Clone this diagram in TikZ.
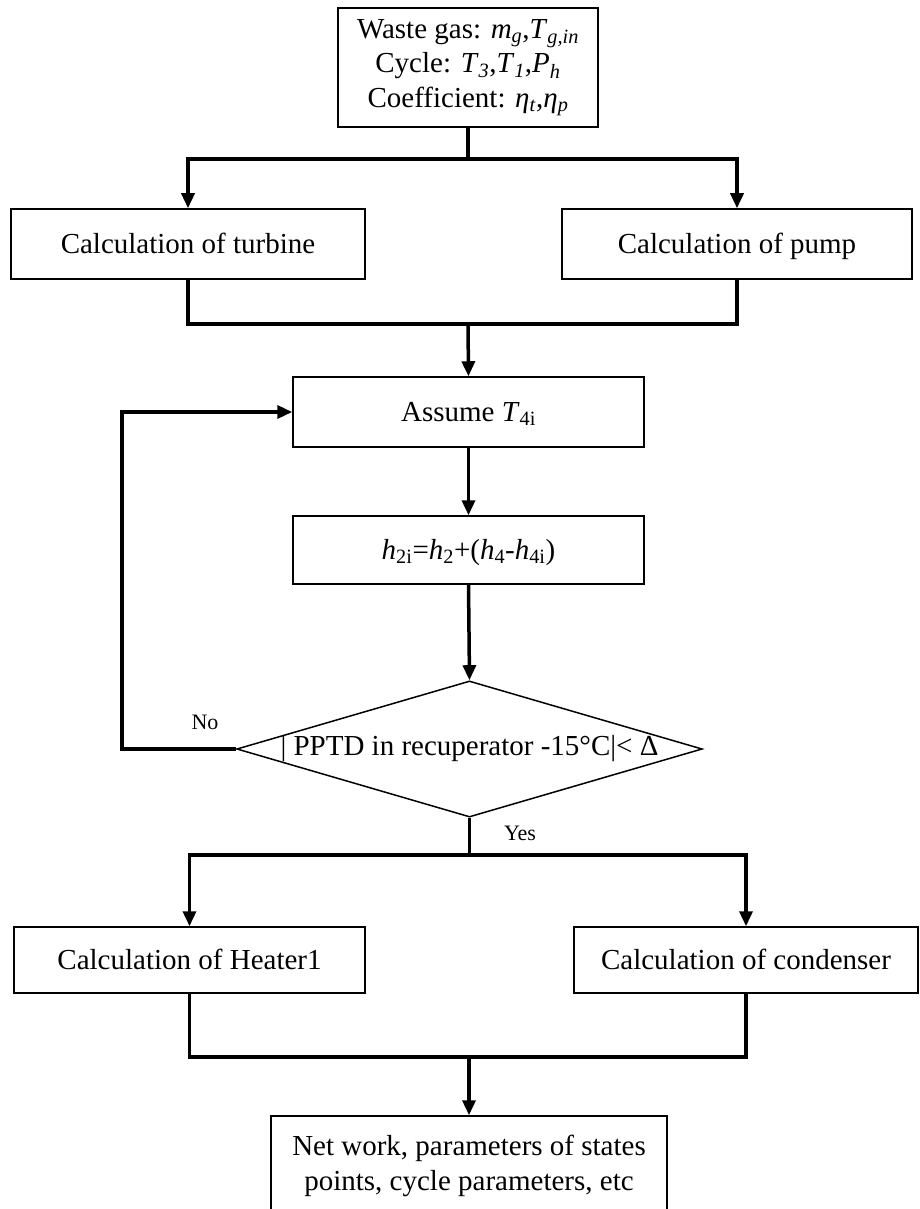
\documentclass[tikz,border=0pt]{standalone}
\usepackage{fontspec}
\setmainfont{Liberation Serif}
\usetikzlibrary{shapes.geometric,arrows.meta}
\newcommand{\vsub}[2]{\textit{#1}\textsubscript{#2}}
\begin{document}
\begin{tikzpicture}[x=1pt,y=-1pt,
boxstyle/.style={rectangle,draw,line width=1.5pt,align=center,font=\fontsize{29}{34.5}\selectfont},
onebox/.style={boxstyle,text height=22pt,text depth=4pt},
decstyle/.style={diamond,draw,line width=1.5pt,aspect=3.42,inner sep=-0.3pt,font=\fontsize{29}{34.5}\selectfont},
flow/.style={line width=3.5pt,-{Triangle[length=15pt,width=13pt]}},
plain/.style={line width=3.5pt},
lab/.style={font=\fontsize{22}{26}\selectfont}]
\useasboundingbox (0,0) rectangle (919,1209);
\node[boxstyle,minimum width=260,minimum height=119](input) at (468,67.5){Waste gas: \vsub{m}{\textit{g}},\vsub{T}{\textit{g,in}}\\Cycle: \vsub{T}{\textit{3}},\vsub{T}{\textit{1}},\vsub{P}{\textit{h}}\\Coefficient: \vsub{η}{\textit{t}},\vsub{η}{\textit{p}}};
\node[onebox,minimum width=354,minimum height=70](turbine) at (188,244){Calculation of turbine};
\node[onebox,minimum width=350,minimum height=70](pump) at (737,244){Calculation of pump};
\node[onebox,minimum width=351,minimum height=70](assume) at (468.5,412){Assume \vsub{T}{4i}};
\node[onebox,minimum width=351,minimum height=68](enth) at (468.5,550){\vsub{h}{2i}=\vsub{h}{2}+(\vsub{h}{4}-\vsub{h}{4i})};
\node[decstyle](check) at (469.5,749){| PPTD in recuperator -15°C|< Δ};
\node[onebox,minimum width=351,minimum height=66](heater) at (189.5,960){Calculation of Heater1};
\node[onebox,minimum width=344,minimum height=66](condenser) at (746,960){Calculation of condenser};
\node[boxstyle,minimum width=396,minimum height=100](result) at (469,1166){Net work, parameters of states\\points, cycle parameters, etc};
\node[lab](no) at (205,722){No};
\node[lab](yes) at (520,833){Yes};
\coordinate (s1) at (468,159);
\coordinate (j1) at (468,324);
\coordinate (loop) at (122,749);
\coordinate (s2) at (469.5,855);
\coordinate (j2) at (469,1057);
\draw[plain] (input.south)--(s1);
\draw[flow] (s1)-|(turbine.north);
\draw[flow] (s1)-|(pump.north);
\draw[plain] (turbine.south)|-(j1)-|(pump.south);
\draw[flow] (j1)--(assume.north);
\draw[flow] (assume.south)--(enth.north);
\draw[flow] (enth.south)--(check.north);
\draw[flow] (check.west)--(loop)|-(assume.west);
\draw[plain] (check.south)--(s2);
\draw[flow] (s2)-|(heater.north);
\draw[flow] (s2)-|(condenser.north);
\draw[plain] (heater.south)|-(j2)-|(condenser.south);
\draw[flow] (j2)--(result.north);
\end{tikzpicture}
\end{document}
